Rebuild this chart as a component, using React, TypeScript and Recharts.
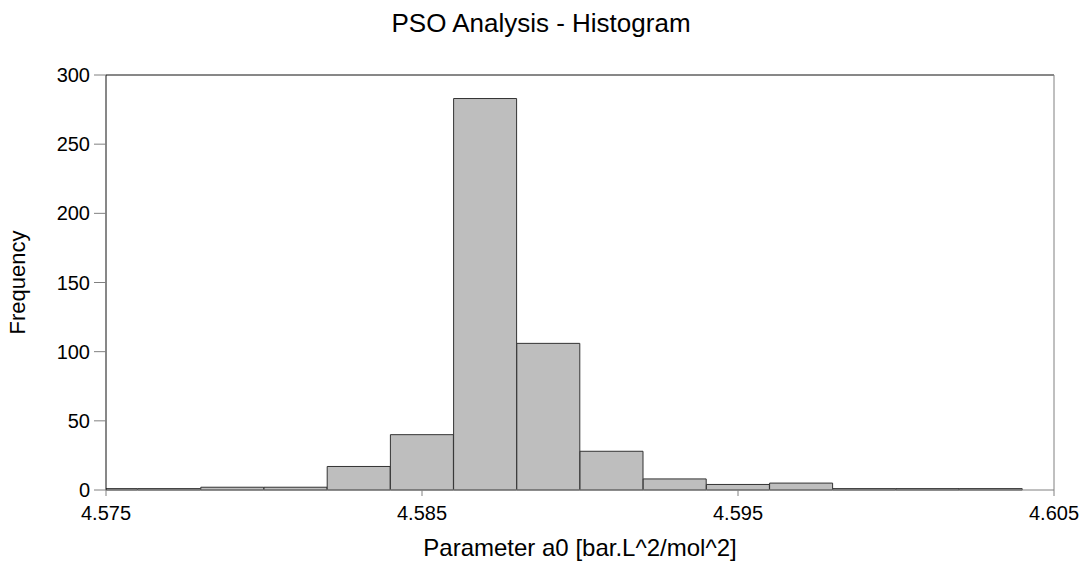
import React from "react";
import { Bar, ComposedChart, Label, ReferenceLine, XAxis, YAxis } from "recharts";

// histogram bins: centre of each 0.002-wide bin and its count
const binCenters = [
  4.575, 4.577, 4.579, 4.581, 4.583, 4.585, 4.587, 4.589, 4.591, 4.593, 4.595, 4.597, 4.599, 4.601, 4.603,
];
const binCounts = [1, 1, 2, 2, 17, 40, 283, 106, 28, 8, 4, 5, 1, 1, 1];

const xTicks = [4.575, 4.585, 4.595, 4.605];
const yTicks = [0, 50, 100, 150, 200, 250, 300];

const data = binCenters.map((x, i) => ({ x, count: binCounts[i] }));

const font = "'Liberation Sans', Arial, sans-serif";
const axisGray = "#808080";

function YTitle({ viewBox }: { viewBox?: { x: number; y: number; width: number; height: number } }) {
  if (!viewBox) return null;
  const cx = 25;
  const cy = viewBox.y + viewBox.height / 2;
  return (
    <text
      x={cx}
      y={cy}
      transform={`rotate(-90, ${cx}, ${cy})`}
      textAnchor="middle"
      fontSize={22}
      fill="#000"
      fontFamily={font}
    >
      Frequency
    </text>
  );
}

export default function App() {
  return (
    <div style={{ position: "absolute", left: 0, top: 0, width: 1082, height: 564, background: "#fff" }}>
      <ComposedChart
        width={1082}
        height={564}
        data={data}
        barCategoryGap={0}
        barGap={0}
        margin={{ top: 75, right: 28, bottom: 0, left: 0 }}
        style={{ fontFamily: font }}
      >
        <text x={541} y={32} textAnchor="middle" fontSize={26} fill="#000" fontFamily={font}>
          PSO Analysis - Histogram
        </text>
        <XAxis
          dataKey="x"
          type="number"
          domain={[4.575, 4.605]}
          ticks={xTicks}
          allowDataOverflow
          height={74}
          tickSize={6}
          tickMargin={10}
          tickFormatter={(v: number) => v.toFixed(3)}
          tick={{ fill: "#000", fontSize: 20 }}
          stroke={axisGray}
          tickLine={{ stroke: axisGray }}
          axisLine={{ stroke: axisGray }}
        >
          <Label value="Parameter a0 [bar.L^2/mol^2]" position="insideBottom" offset={8} fontSize={24} fill="#000" />
        </XAxis>
        <YAxis
          domain={[0, 300]}
          ticks={yTicks}
          width={106}
          tickSize={12}
          tickMargin={4}
          tick={{ fill: "#000", fontSize: 20 }}
          tickLine={{ stroke: axisGray }}
          axisLine={{ stroke: "#111" }}
        >
          <Label content={<YTitle />} />
        </YAxis>
        <Bar dataKey="count" fill="#bebebe" stroke="#333" strokeWidth={1} isAnimationActive={false} />
        {/* frame: dark top edge, grey right edge */}
        <ReferenceLine y={300} stroke="#111" />
        <ReferenceLine x={4.605} stroke={axisGray} />
      </ComposedChart>
    </div>
  );
}
